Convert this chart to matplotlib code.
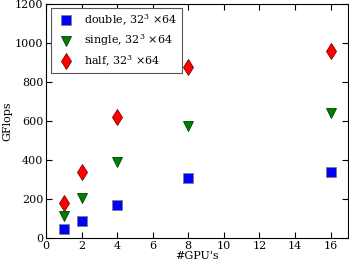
import numpy as np
import matplotlib
matplotlib.use("Agg")
import matplotlib.pyplot as plt

plt.rcParams['font.family'] = 'DejaVu Serif'
plt.rcParams['mathtext.fontset'] = 'dejavuserif'

# GPU-Anzahl und GFlops
gpus = [1, 2, 4, 8, 16]
gflops_double = [45, 87, 168, 305, 336]
gflops_single = [110, 205, 390, 572, 641]
gflops_half = [178, 340, 622, 878, 959]

fig = plt.figure(figsize=(3.49, 2.62), dpi=100)
ax = fig.add_axes([0.132, 0.092, 0.866, 0.893])

ax.plot(gpus, gflops_double, 's', color='blue', markersize=6.5, markeredgecolor='gray',
        markeredgewidth=0.6, label=r'double, 32$^3$ $\times$64')
ax.plot(gpus, gflops_single, 'v', color='green', markersize=7, markeredgecolor='#004000',
        markeredgewidth=0.6, label=r'single, 32$^3$ $\times$64')
ax.plot(gpus, gflops_half, 'd', color='red', markersize=8, markeredgecolor='#800000',
        markeredgewidth=0.6, label=r'half, 32$^3$ $\times$64')

ax.set_xlim(0, 17)
ax.set_ylim(0, 1200)
ax.set_xticks(np.arange(0, 17, 2))
ax.set_yticks(np.arange(0, 1201, 200))
ax.tick_params(direction='in', top=True, right=True, labelsize=8, length=4, pad=2)
ax.set_xlabel("#GPU's", fontsize=8, labelpad=0)
ax.set_ylabel("GFlops", fontsize=8, labelpad=2)

leg = ax.legend(loc='upper left', numpoints=1, fontsize=8, fancybox=False,
                framealpha=1, edgecolor='#555555', borderaxespad=0.4, handletextpad=0.7,
                labelspacing=0.45, borderpad=0.35)
leg.get_frame().set_linewidth(0.8)

fig.savefig('out.png', dpi=100)
